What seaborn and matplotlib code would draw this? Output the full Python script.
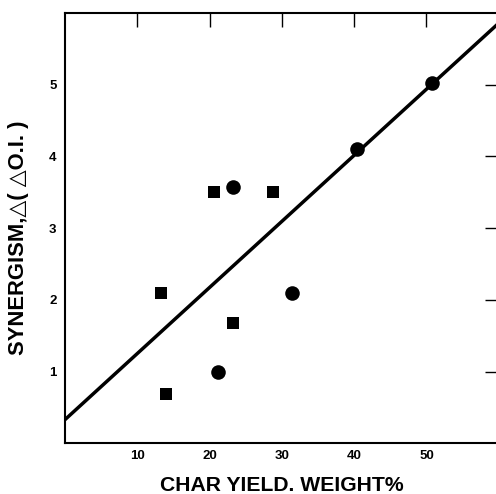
import matplotlib
matplotlib.use("Agg")
import matplotlib.pyplot as plt
import seaborn as sns
import pandas as pd

# Data
circle_x = [23.3, 40.4, 50.8, 31.4, 21.2]
circle_y = [3.58, 4.11, 5.02, 2.10, 1.00]
square_x = [20.6, 28.8, 13.3, 23.2, 14.0]
square_y = [3.51, 3.51, 2.10, 1.68, 0.69]
line_x = [0.0, 60.0]
line_y = [0.33, 5.86]
x_ticks = [10, 20, 30, 40, 50]
y_ticks = [1, 2, 3, 4, 5]
x_label = "CHAR YIELD. WEIGHT%"
y_label = "SYNERGISM,\u25b3( \u25b3O.I. )"

sns.set_style("white")
plt.rcParams['font.family'] = ['Liberation Sans', 'DejaVu Sans']
plt.rcParams['font.weight'] = 'bold'
plt.rcParams['text.color'] = 'black'
plt.rcParams['axes.labelcolor'] = 'black'
plt.rcParams['xtick.color'] = 'black'
plt.rcParams['ytick.color'] = 'black'

fig = plt.figure(figsize=(4.96, 4.94), dpi=100)
ax = fig.add_axes([0.131, 0.1026, 0.8746, 0.871])

circles = pd.DataFrame({"x": circle_x, "y": circle_y})
squares = pd.DataFrame({"x": square_x, "y": square_y})
line = pd.DataFrame({"x": line_x, "y": line_y})

sns.lineplot(data=line, x="x", y="y", ax=ax, color="black", linewidth=2.5)
sns.scatterplot(data=circles, x="x", y="y", ax=ax, marker="o", s=110,
                color="black", edgecolor="black", linewidth=0)
sns.scatterplot(data=squares, x="x", y="y", ax=ax, marker="s", s=85,
                color="black", edgecolor="black", linewidth=0)

ax.set_xlim(0, 60)
ax.set_ylim(0, 6)
ax.set_xticks(x_ticks)
ax.set_yticks(y_ticks)
ax.set_xticklabels([str(t) for t in x_ticks], fontsize=9.5, fontweight='heavy', color='black')
ax.set_yticklabels([str(t) for t in y_ticks], fontsize=9.5, fontweight='heavy', color='black')
ax.tick_params(axis='both', direction='in', length=10, width=1.0, color='black',
               top=True, right=True, labelcolor='black')
ax.tick_params(axis='x', pad=5)
ax.tick_params(axis='y', pad=6)
for s in ax.spines.values():
    s.set_visible(True)
    s.set_color('black')
    s.set_linewidth(1.5)

ax.set_xlabel(x_label, fontsize=15.2, fontweight='heavy', color='black', labelpad=10)
ax.set_ylabel(y_label, fontsize=15.8, fontweight='heavy', color='black')
ax.yaxis.set_label_coords(-0.083, 0.477)
ax.grid(False)

fig.savefig("out.png", dpi=100)
